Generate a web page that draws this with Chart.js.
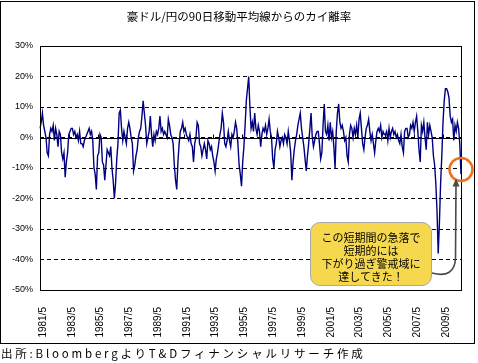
<!DOCTYPE html>
<html>
<head>
<meta charset="utf-8">
<script src="https://cdn.jsdelivr.net/npm/chart.js@4.4.0/dist/chart.umd.min.js"></script>
<style>
html, body { margin: 0; padding: 0; background: #fff; }
#wrap { position: relative; width: 478px; height: 363px; overflow: hidden; font-family: "Noto Sans CJK JP", sans-serif; color: #000; }
#chart { position: absolute; left: 0; top: 0; }
#title { position: absolute; left: 0; width: 478px; top: 8px; text-align: center; font-size: 11.5px; line-height: 16px; }
#source { position: absolute; left: 1px; top: 346px; font-size: 11.5px; line-height: 15px; letter-spacing: 2.8px; white-space: nowrap; }
#note { position: absolute; left: 310px; top: 222px; width: 122px; height: 64px; box-sizing: border-box; background: #f6d84f; border: 1px solid #a8a8a8; border-radius: 10px; font-size: 11px; line-height: 13px; text-align: center; padding-top: 8px; }
</style>
</head>
<body>
<div id="wrap">
  <canvas id="chart" width="478" height="363"></canvas>
  <div id="title">豪ドル/円の90日移動平均線からのカイ離率</div>
  <div id="note">この短期間の急落で<br>短期的には<br>下がり過ぎ警戒域に<br>達してきた！</div>
  <div id="source">出所:BloombergよりT&amp;Dフィナンシャルリサーチ作成</div>
</div>
<script>
// --- DATA (monthly deviation %) ---
const vals1981_89 = [
  3, 5, 8, 4, 2, 0, -5, -6, 1, 3,
  2, 4, -1, 3, 1, -3, 2, 1, -5, -7,
  -5, -13, -8, -5, 1, 2, 3, 3, 1, 2,
  0, 1, -1, 2, -2, -2, -3, -1, 0, 1,
  2, 3, 1, 2, -1, -10, -12, -17, -6, -5,
  1, 0, -8, -9, -14, -9, -4, -5, -6, -3,
  -10, -14, -20, -15, -7, -2, 8, 9, 3, -1,
  2, 0, -2, 3, 5, 3, 0, -2, -11, -9,
  -6, -4, 0, 2, 3, 7, 12, 8, 4, -2,
  0, 2, 7, 1, -3, 1, -1, 2, 1, 3,
  7, 2, 3, 1
];
const vals1990_99 = [
  2, 1, 0, 6, 4, 1,
  0, -2, -9, -14, -17, -8, -2, 2, 3, 5,
  2, 3, 1, 0, -1, 1, -2, -3, -8, -2,
  0, 5, 4, -2, -3, -6, -4, -2, -4, -7,
  -1, -2, -4, -3, -6, -8, -11, -7, -5, -2,
  1, 3, 8, 5, -2, -3, -1, 2, -1, -3,
  1, 0, 2, 5, 3, -2, -9, -12, -16, -8,
  -3, 4, 12, 16, 20, 10, 3, 5, 2, 8,
  3, 1, 4, 2, -3, 1, 3, 2, 4, 1,
  3, 6, 2, 0, -7, -10, -4, -2, 2, 0,
  -3, -1, 0, -2, 1, 0, -2, 2, -1, -5,
  -14, -8, -4, -1, 1, 4, 6, 8, 3, 0,
  -3, -7, -11, -6
];
const vals2000_10 = [
  -2, 3, 8, 0, -3, -1,
  1, 2, 2, -2, -7, -5, 4, 11, 2, 1,
  4, -1, 5, 0, 2, -3, -10, 2, 8, 11,
  5, 3, 4, 2, -1, 0, -6, -8, 1, 4,
  3, 0, 3, 1, 4, 0, 6, 8, 3, -2,
  -4, 0, 3, 4, 6, 2, -1, 1, -2, -5,
  -1, 2, 3, 2, 4, 0, 2, 1, 1, 2,
  -1, 3, 0, 2, 3, 1, 2, 0, 1, -1,
  -2, 1, -3, -5, 2, 3, 3, 0, 1, 4,
  3, 5, 2, 5, 7, 2, -4, -8, 4, 2,
  5, 0, -4, 5, 1, 4, 2, 0, -6, -9,
  -15, -24, -38, -28, -15, -6, 5, 12, 16, 16,
  15, 13, 7, 5, 6, -1, 4, 2, 5, 3,
  -2, -12
];
const tickLabels = ['1981/5', '1983/5', '1985/5', '1987/5', '1989/5', '1991/5', '1993/5', '1995/5',
                    '1997/5', '1999/5', '2001/5', '2003/5', '2005/5', '2007/5', '2009/5'];
const yTicks = [30, 20, 10, 0, -10, -20, -30, -40, -50];

const values = [...vals1981_89, ...vals1990_99, ...vals2000_10];

// month categories starting 1981/5
const months = [];
for (let i = 0; i < values.length; i++) {
    const m = 4 + i;
    months.push(`${1981 + Math.floor(m / 12)}/${m % 12 + 1}`);
}

// --- DECORATION: zero line, axis ticks, borders, circle & arrow ---
const decor = {
    id: 'decor',
    beforeDatasetsDraw(chart) {
        const { ctx, chartArea: a, scales: { x, y } } = chart;
        const y0 = Math.round(y.getPixelForValue(0)) + 0.5;
        ctx.save();
        ctx.strokeStyle = '#000';
        ctx.lineWidth = 1;
        ctx.beginPath();
        ctx.moveTo(a.left, y0);
        ctx.lineTo(a.right, y0);
        months.forEach((m, i) => {
            if (!tickLabels.includes(m)) return;
            const px = Math.round(x.getPixelForValue(i)) + 0.5;
            ctx.moveTo(px, y0);
            ctx.lineTo(px, y0 - 4);
        });
        ctx.stroke();
        ctx.restore();
    },
    afterDraw(chart) {
        const { ctx, chartArea: a, scales: { x, y } } = chart;
        ctx.save();
        ctx.strokeStyle = '#000';
        ctx.lineWidth = 1;
        // plot border
        ctx.strokeRect(Math.round(a.left) + 0.5, Math.round(a.top) + 0.5,
                       Math.round(a.right - a.left), Math.round(a.bottom - a.top));
        // outer frame
        ctx.strokeRect(0.5, 1.5, 474, 342);

        // orange circle around latest reading
        const cx = x.getPixelForValue(values.length - 1);
        const cy = y.getPixelForValue(-10.5);
        ctx.strokeStyle = '#f07020';
        ctx.lineWidth = 2.5;
        ctx.beginPath();
        ctx.arc(cx, cy, 11.5, 0, Math.PI * 2);
        ctx.stroke();

        // arrow from callout to circle
        ctx.strokeStyle = '#4a4a4a';
        ctx.fillStyle = '#4a4a4a';
        ctx.lineWidth = 1.6;
        ctx.beginPath();
        ctx.moveTo(432, 273);
        ctx.bezierCurveTo(447, 277, 455, 272, 455.5, 258);
        ctx.lineTo(456, cy + 15);
        ctx.stroke();
        ctx.beginPath();
        ctx.moveTo(456, cy + 9);
        ctx.lineTo(452.5, cy + 17);
        ctx.lineTo(459.5, cy + 17);
        ctx.closePath();
        ctx.fill();
        ctx.restore();
    }
};

new Chart(document.getElementById('chart'), {
    type: 'line',
    data: {
        labels: months,
        datasets: [{
            data: values,
            borderColor: '#000080',
            borderWidth: 1.4,
            pointRadius: 0,
            tension: 0,
            fill: false
        }]
    },
    options: {
        responsive: false,
        animation: false,
        devicePixelRatio: 1,
        layout: { padding: { left: 0, right: 17, top: 46, bottom: 23 } },
        plugins: { legend: { display: false }, tooltip: { enabled: false } },
        scales: {
            x: {
                grid: { display: false, drawTicks: false },
                border: { display: false },
                ticks: {
                    autoSkip: false,
                    maxRotation: 90,
                    minRotation: 90,
                    padding: 17,
                    labelOffset: 3,
                    color: '#000',
                    font: { family: 'Liberation Sans', size: 10 },
                    callback: (v, i) => tickLabels.includes(months[i]) ? months[i] : ''
                },
                // keep the scale spanning the whole plot width
                afterFit: s => { s.height = 50; s.paddingLeft = 0; s.paddingRight = 0; }
            },
            y: {
                min: -50,
                max: 30,
                afterBuildTicks: s => { s.ticks = yTicks.map(v => ({ value: v })); },
                grid: { color: '#000', lineWidth: 1, drawTicks: false },
                border: { display: false, dash: [4, 3] },
                ticks: {
                    padding: 7,
                    color: '#000',
                    font: { family: 'Liberation Sans', size: 9 },
                    callback: v => v + '%'
                },
                afterFit: s => { s.width = 40; }
            }
        }
    },
    plugins: [decor]
});
</script>
</body>
</html>
